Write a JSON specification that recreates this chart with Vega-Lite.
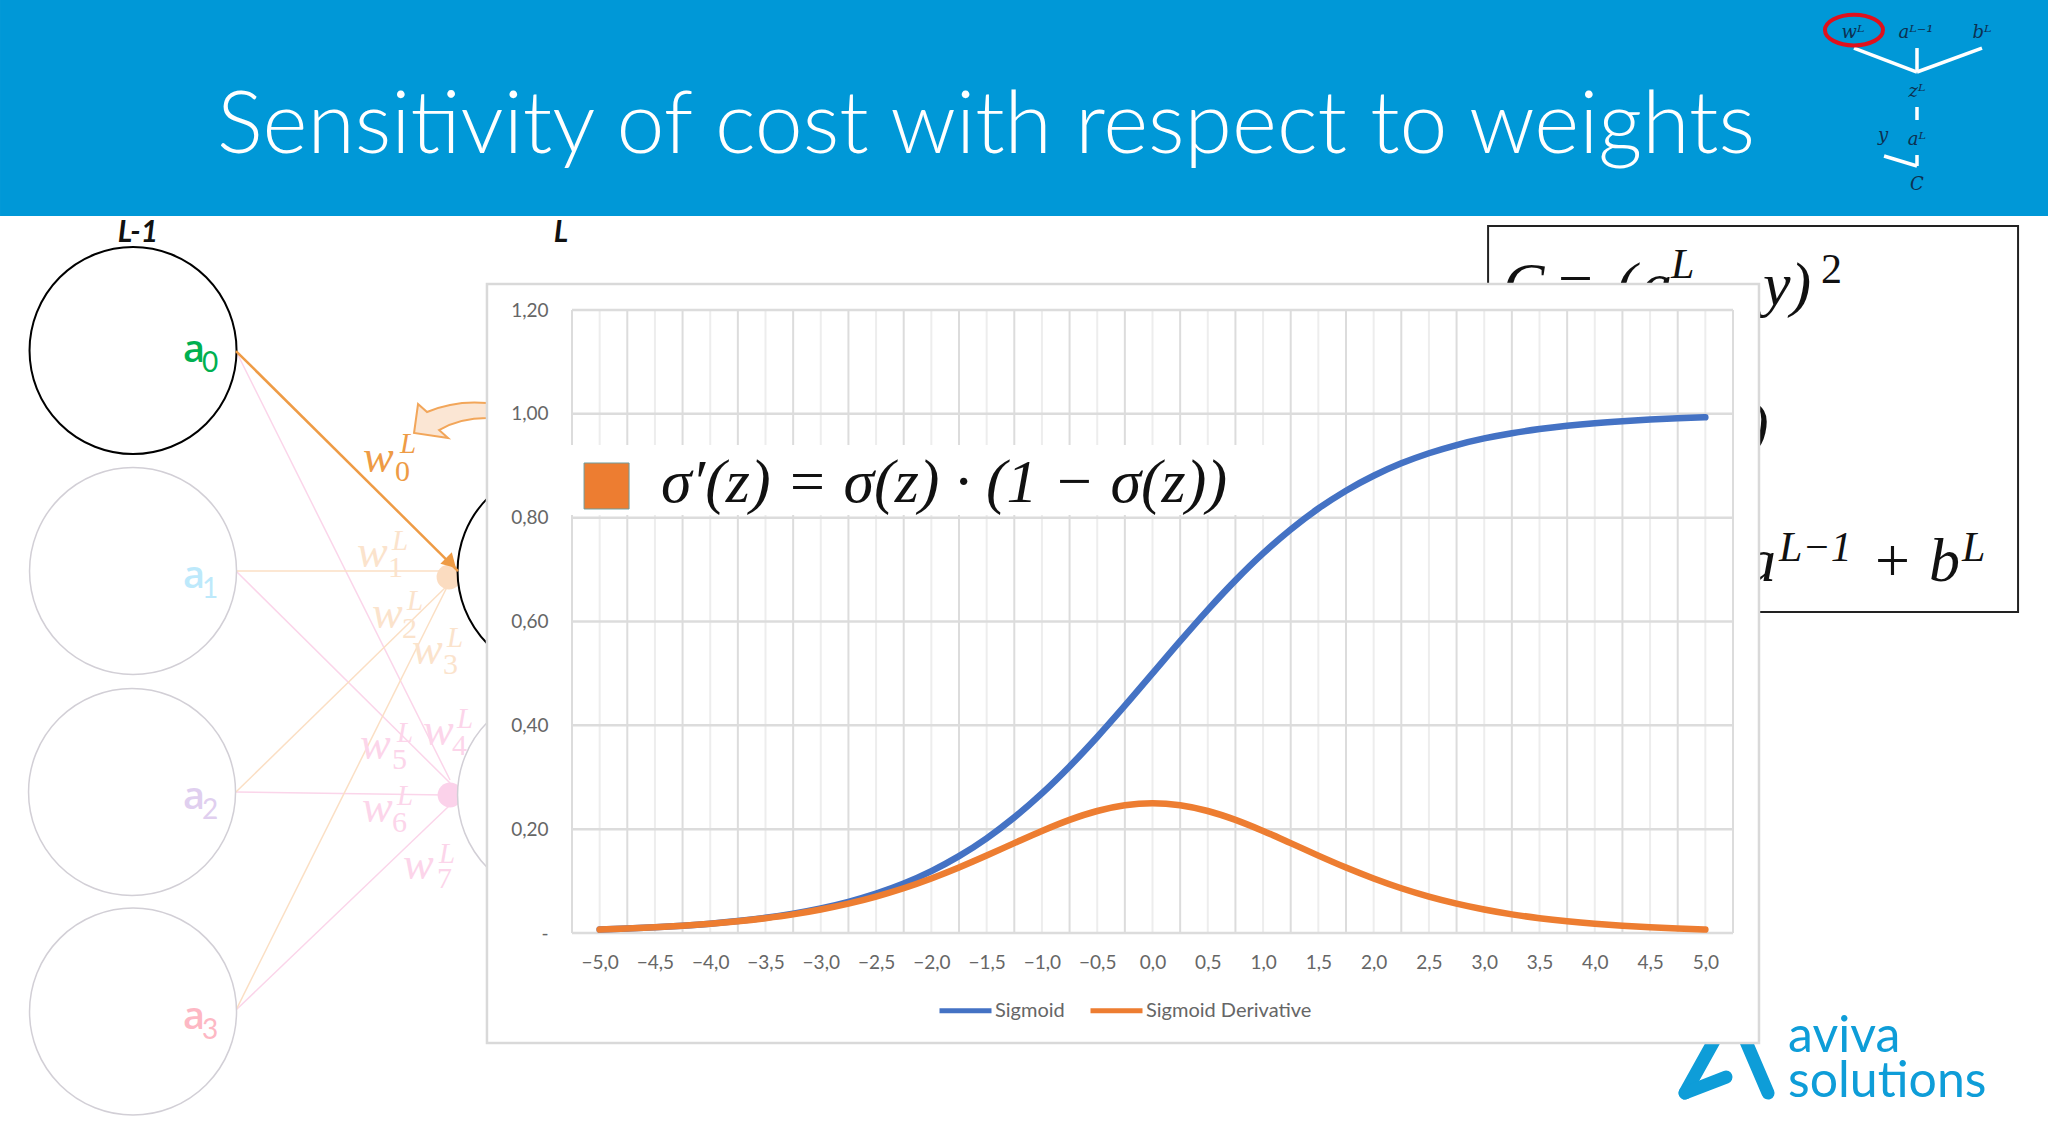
{"$schema":"https://vega.github.io/schema/vega-lite/v6.json","width":1161,"height":623,"autosize":{"type":"none"},"padding":{"left":572,"top":310,"right":315,"bottom":208},"background":"#ffffff","config":{"view":{"stroke":null}},
"encoding":{"x":{"field":"x","type":"quantitative","scale":{"domain":[-5.25,5.25],"nice":false,"zero":false},"axis":{"title":null,"values":[-5,-4.5,-4,-3.5,-3,-2.5,-2,-1.5,-1,-0.5,0,0.5,1,1.5,2,2.5,3,3.5,4,4.5,5],"labelExpr":"replace(datum.label,'.',',')","domain":false,"ticks":false,"grid":false,"labelFont":"Lato","labelFontSize":19,"labelColor":"#666666","labelPadding":20,"labelOverlap":false,"labelFlush":false,"zindex":2}},"y":{"field":"y","type":"quantitative","scale":{"domain":[0,1.2],"nice":false,"zero":false},"axis":{"title":null,"values":[0,0.2,0.4,0.6,0.8,1,1.2],"labelExpr":"datum.value==0?'-':replace(format(datum.value,'.2f'),'.',',')","domain":false,"ticks":false,"grid":false,"labelFont":"Lato","labelFontSize":19,"labelColor":"#666666","labelPadding":24,"labelOverlap":false,"labelFlush":false,"zindex":2}}},
"layer":[
{"data":{"values":[{"x":-10.423,"x2":8.099,"y":1.797,"y2":1.381}]},"mark":{"type":"rect","fill":"#0098d7"},"encoding":{"x2":{"field":"x2"},"y2":{"field":"y2"}}},
{"data":{"values":[{"x":-1.506,"y":1.502,"t":"Sensitivity of cost with respect to weights"}]},"mark":{"type":"text","font":"Lato","fontWeight":300,"fontSize":86,"fill":"#ffffff","align":"center","baseline":"alphabetic"},"encoding":{"text":{"field":"t"}}},
{"data":{"values":[{"x":6.344,"y":1.7046,"x2":6.914,"y2":1.6584},{"x":6.914,"y":1.7046,"x2":6.914,"y2":1.6584},{"x":7.502,"y":1.7046,"x2":6.914,"y2":1.6584},{"x":6.914,"y":1.591,"x2":6.914,"y2":1.566},{"x":6.616,"y":1.4966,"x2":6.914,"y2":1.4774},{"x":6.914,"y":1.4985,"x2":6.914,"y2":1.4774}]},"mark":{"type":"rule","stroke":"#ffffff","strokeWidth":3.5},"encoding":{"x2":{"field":"x2"},"y2":{"field":"y2"}}},
{"data":{"values":[{"x":6.344,"y":1.7393}]},"mark":{"type":"point","shape":"M-1 0 A1 .53 0 1 1 1 0 A1 .53 0 1 1 -1 0 Z","size":3364,"filled":false,"stroke":"#e0101c","strokeWidth":4,"opacity":1}},
{"data":{"values":[{"x":6.335,"y":1.7239,"t":"wᴸ"},{"x":6.905,"y":1.7239,"t":"aᴸ⁻¹"},{"x":7.502,"y":1.7239,"t":"bᴸ"},{"x":6.914,"y":1.6103,"t":"zᴸ"},{"x":6.607,"y":1.5255,"t":"y"},{"x":6.914,"y":1.5178,"t":"aᴸ"},{"x":6.914,"y":1.4311,"t":"C"}]},"mark":{"type":"text","font":"DejaVu Serif","fontStyle":"italic","fontSize":18,"fill":"#0d3050","align":"center","baseline":"alphabetic"},"encoding":{"text":{"field":"t"}}},
{"data":{"values":[{"x":3.035,"x2":7.828,"y":1.3618,"y2":0.6183}]},"mark":{"type":"rect","fill":"#ffffff","stroke":"#222222","strokeWidth":2},"encoding":{"x2":{"field":"x2"},"y2":{"field":"y2"}}},
{"data":{"values":[{"x":3.17,"y":1.2096,"t":"C"},{"x":4.192,"y":1.2096,"t":"("},{"x":4.418,"y":1.2096,"t":"a"},{"x":5.521,"y":1.2096,"t":"y)"},{"x":5.386,"y":0.9399,"t":")"},{"x":5.359,"y":0.678,"t":"a"},{"x":7.023,"y":0.678,"t":"b"}]},"mark":{"type":"text","font":"Liberation Serif","fontStyle":"italic","fontSize":62,"fill":"#111111","align":"left","baseline":"alphabetic"},"encoding":{"text":{"field":"t"}}},
{"data":{"values":[{"x":3.668,"y":1.2096,"t":"="},{"x":6.535,"y":0.678,"t":"+"}]},"mark":{"type":"text","font":"Liberation Serif","fontSize":62,"fill":"#111111","align":"left","baseline":"alphabetic"},"encoding":{"text":{"field":"t"}}},
{"data":{"values":[{"x":4.69,"y":1.2616,"t":"L"},{"x":5.666,"y":0.7165,"t":"L−1"},{"x":7.321,"y":0.7165,"t":"L"}]},"mark":{"type":"text","font":"Liberation Serif","fontStyle":"italic","fontSize":42,"fill":"#111111","align":"left","baseline":"alphabetic"},"encoding":{"text":{"field":"t"}}},
{"data":{"values":[{"x":6.046,"y":1.252,"t":"2"}]},"mark":{"type":"text","font":"Liberation Serif","fontSize":42,"fill":"#111111","align":"left","baseline":"alphabetic"},"encoding":{"text":{"field":"t"}}},
{"data":{"values":[{"x":5.133,"y":-0.1869,"x2":4.816,"y2":-0.3082},{"x":4.816,"y":-0.3082,"x2":5.187,"y2":-0.2775},{"x":5.323,"y":-0.1869,"x2":5.567,"y2":-0.3082}]},"mark":{"type":"rule","stroke":"#0e9dd8","strokeWidth":13,"strokeCap":"round"},"encoding":{"x2":{"field":"x2"},"y2":{"field":"y2"}}},
{"data":{"values":[{"x":5.748,"y":-0.2293,"t":"aviva"},{"x":5.748,"y":-0.3159,"t":"solutions"}]},"mark":{"type":"text","font":"Lato","fontSize":50,"fill":"#0e9dd8","align":"left","baseline":"alphabetic"},"encoding":{"text":{"field":"t"}}},
{"data":{"values":[{"x":-8.289,"y":1.121,"x2":-6.353,"y2":0.2947},{"x":-8.289,"y":0.6972,"x2":-6.353,"y2":0.2889},{"x":-8.289,"y":0.2716,"x2":-6.398,"y2":0.2658},{"x":-8.289,"y":-0.1484,"x2":-6.353,"y2":0.2465}]},"mark":{"type":"rule","stroke":"#fbd5ea","strokeWidth":1.5},"encoding":{"x2":{"field":"x2"},"y2":{"field":"y2"}}},
{"data":{"values":[{"x":-8.289,"y":0.6972,"x2":-6.398,"y2":0.6972},{"x":-8.289,"y":0.2716,"x2":-6.353,"y2":0.6741},{"x":-8.289,"y":-0.1484,"x2":-6.38,"y2":0.6664}]},"mark":{"type":"rule","stroke":"#fbdfc4","strokeWidth":1.5},"encoding":{"x2":{"field":"x2"},"y2":{"field":"y2"}}},
{"data":{"values":[{"x":-6.362,"y":0.6857}]},"mark":{"type":"point","shape":"circle","filled":true,"size":620,"fill":"#fbdcc0","opacity":1}},
{"data":{"values":[{"x":-6.353,"y":0.2658}]},"mark":{"type":"point","shape":"circle","filled":true,"size":620,"fill":"#fbd2ea","opacity":1}},
{"data":{"values":[{"x":-5.349,"y":0.2658},{"x":-9.22,"y":0.6972},{"x":-9.229,"y":0.2716},{"x":-9.22,"y":-0.1513}]},"mark":{"type":"point","shape":"circle","size":42849,"filled":false,"fill":"#ffffff","fillOpacity":1,"stroke":"#d2cfd6","strokeWidth":1.5,"opacity":1}},
{"data":{"values":[{"x":-5.349,"y":0.6972},{"x":-9.22,"y":1.122}]},"mark":{"type":"point","shape":"circle","size":42849,"filled":false,"fill":"#ffffff","fillOpacity":1,"stroke":"#000000","strokeWidth":2,"opacity":1}},
{"data":{"values":[{"x":-8.289,"y":1.121,"x2":-6.281,"y2":0.6972}]},"mark":{"type":"rule","stroke":"#ee9b45","strokeWidth":2.5},"encoding":{"x2":{"field":"x2"},"y2":{"field":"y2"}}},
{"data":{"values":[{"x":-6.344,"y":0.7127}]},"mark":{"type":"point","shape":"triangle-up","angle":135,"size":260,"filled":true,"fill":"#ee9b45","opacity":1}},
{"data":{"values":[{"x":-9.175,"y":1.331,"t":"L-1"},{"x":-5.349,"y":1.331,"t":"L"}]},"mark":{"type":"text","font":"Lato","fontWeight":"bold","fontStyle":"italic","fontSize":30,"fill":"#111111","align":"center","baseline":"alphabetic"},"encoding":{"text":{"field":"t"}}},
{"data":{"values":[{"x":-8.768,"y":1.0998,"t":"a","g":"a0"},{"x":-8.768,"y":0.6645,"t":"a","g":"a1"},{"x":-8.768,"y":0.2388,"t":"a","g":"a2"},{"x":-8.768,"y":-0.185,"t":"a","g":"a3"}]},"mark":{"type":"text","font":"Open Sans","fontWeight":600,"fontSize":38,"align":"left","baseline":"alphabetic"},"encoding":{"text":{"field":"t"},"fill":{"field":"g","legend":null,"scale":{"domain":["a0","a1","a2","a3","orange","pale","pink"],"range":["#00b050","#bde9fb","#e0cfef","#fdb8c4","#ee9b45","#fbe3cc","#fcd5ea"]}}}},
{"data":{"values":[{"x":-8.596,"y":1.0806,"t":"0","g":"a0"},{"x":-8.596,"y":0.6452,"t":"1","g":"a1"},{"x":-8.596,"y":0.2195,"t":"2","g":"a2"},{"x":-8.596,"y":-0.2043,"t":"3","g":"a3"}]},"mark":{"type":"text","font":"Lato","fontSize":28,"align":"left","baseline":"alphabetic"},"encoding":{"text":{"field":"t"},"fill":{"field":"g","legend":null}}},
{"data":{"values":[{"x":-7.14,"y":0.8879,"t":"w","g":"orange"},{"x":-7.194,"y":0.7049,"t":"w","g":"pale"},{"x":-7.059,"y":0.5874,"t":"w","g":"pale"},{"x":-6.697,"y":0.5181,"t":"w","g":"pale"},{"x":-6.597,"y":0.3621,"t":"w","g":"pink"},{"x":-7.167,"y":0.3351,"t":"w","g":"pink"},{"x":-7.149,"y":0.2138,"t":"w","g":"pink"},{"x":-6.778,"y":0.104,"t":"w","g":"pink"}]},"mark":{"type":"text","font":"Liberation Serif","fontStyle":"italic","fontSize":46,"align":"left","baseline":"alphabetic"},"encoding":{"text":{"field":"t"},"fill":{"field":"g","legend":null}}},
{"data":{"values":[{"x":-6.805,"y":0.9245,"t":"L","g":"orange"},{"x":-6.878,"y":0.7377,"t":"L","g":"pale"},{"x":-6.742,"y":0.6221,"t":"L","g":"pale"},{"x":-6.38,"y":0.5508,"t":"L","g":"pale"},{"x":-6.29,"y":0.3948,"t":"L","g":"pink"},{"x":-6.833,"y":0.3679,"t":"L","g":"pink"},{"x":-6.833,"y":0.2465,"t":"L","g":"pink"},{"x":-6.453,"y":0.1348,"t":"L","g":"pink"}]},"mark":{"type":"text","font":"Liberation Serif","fontStyle":"italic","fontSize":29,"align":"left","baseline":"alphabetic"},"encoding":{"text":{"field":"t"},"fill":{"field":"g","legend":null}}},
{"data":{"values":[{"x":-6.851,"y":0.8706,"t":"0","g":"orange"},{"x":-6.914,"y":0.6857,"t":"1","g":"pale"},{"x":-6.787,"y":0.5682,"t":"2","g":"pale"},{"x":-6.417,"y":0.4988,"t":"3","g":"pale"},{"x":-6.335,"y":0.3428,"t":"4","g":"pink"},{"x":-6.878,"y":0.3159,"t":"5","g":"pink"},{"x":-6.878,"y":0.1945,"t":"6","g":"pink"},{"x":-6.471,"y":0.0866,"t":"7","g":"pink"}]},"mark":{"type":"text","font":"Liberation Serif","fontSize":30,"align":"left","baseline":"alphabetic"},"encoding":{"text":{"field":"t"},"fill":{"field":"g","legend":null}}},
{"data":{"values":[{"x":-6.353,"y":0.9881}]},"mark":{"type":"point","shape":"M37 -17 Q5 -20 -23 -8 L-32 -16 L-36 13 L-2 18 L-11 10 Q10 -2 37 -2 Z","size":4,"filled":true,"fill":"#fbe6d4","stroke":"#f2a65a","strokeWidth":2,"opacity":1}},
{"data":{"values":[{"x":-6.019,"x2":5.485,"y":1.2501,"y2":-0.2119}]},"mark":{"type":"rect","fill":"#ffffff","stroke":"#d9d9d9","strokeWidth":2.5},"encoding":{"x2":{"field":"x2"},"y2":{"field":"y2"}}},
{"data":{"values":[{"x":-5},{"x":-4.5},{"x":-4},{"x":-3.5},{"x":-3},{"x":-2.5},{"x":-2},{"x":-1.5},{"x":-1},{"x":-0.5},{"x":0},{"x":0.5},{"x":1},{"x":1.5},{"x":2},{"x":2.5},{"x":3},{"x":3.5},{"x":4},{"x":4.5},{"x":5}]},"mark":{"type":"rule","stroke":"#ededed","strokeWidth":2},"encoding":{"y":null}},
{"data":{"values":[{"x":-5.25},{"x":-4.75},{"x":-4.25},{"x":-3.75},{"x":-3.25},{"x":-2.75},{"x":-2.25},{"x":-1.75},{"x":-1.25},{"x":-0.75},{"x":-0.25},{"x":0.25},{"x":0.75},{"x":1.25},{"x":1.75},{"x":2.25},{"x":2.75},{"x":3.25},{"x":3.75},{"x":4.25},{"x":4.75},{"x":5.25}]},"mark":{"type":"rule","stroke":"#dcdcdc","strokeWidth":2},"encoding":{"y":null}},
{"data":{"values":[{"y":0},{"y":0.2},{"y":0.4},{"y":0.6},{"y":0.8},{"y":1},{"y":1.2}]},"mark":{"type":"rule","stroke":"#dcdcdc","strokeWidth":2.5},"encoding":{"x":null}},
{"data":{"values":[{"x":-5,"y":0.0067,"s":"Sigmoid"},{"x":-4.75,"y":0.0086,"s":"Sigmoid"},{"x":-4.5,"y":0.011,"s":"Sigmoid"},{"x":-4.25,"y":0.0141,"s":"Sigmoid"},{"x":-4,"y":0.018,"s":"Sigmoid"},{"x":-3.75,"y":0.023,"s":"Sigmoid"},{"x":-3.5,"y":0.0293,"s":"Sigmoid"},{"x":-3.25,"y":0.0373,"s":"Sigmoid"},{"x":-3,"y":0.0474,"s":"Sigmoid"},{"x":-2.75,"y":0.0601,"s":"Sigmoid"},{"x":-2.5,"y":0.0759,"s":"Sigmoid"},{"x":-2.25,"y":0.0953,"s":"Sigmoid"},{"x":-2,"y":0.1192,"s":"Sigmoid"},{"x":-1.75,"y":0.148,"s":"Sigmoid"},{"x":-1.5,"y":0.1824,"s":"Sigmoid"},{"x":-1.25,"y":0.2227,"s":"Sigmoid"},{"x":-1,"y":0.2689,"s":"Sigmoid"},{"x":-0.75,"y":0.3208,"s":"Sigmoid"},{"x":-0.5,"y":0.3775,"s":"Sigmoid"},{"x":-0.25,"y":0.4378,"s":"Sigmoid"},{"x":0,"y":0.5,"s":"Sigmoid"},{"x":0.25,"y":0.5622,"s":"Sigmoid"},{"x":0.5,"y":0.6225,"s":"Sigmoid"},{"x":0.75,"y":0.6792,"s":"Sigmoid"},{"x":1,"y":0.7311,"s":"Sigmoid"},{"x":1.25,"y":0.7773,"s":"Sigmoid"},{"x":1.5,"y":0.8176,"s":"Sigmoid"},{"x":1.75,"y":0.852,"s":"Sigmoid"},{"x":2,"y":0.8808,"s":"Sigmoid"},{"x":2.25,"y":0.9047,"s":"Sigmoid"},{"x":2.5,"y":0.9241,"s":"Sigmoid"},{"x":2.75,"y":0.9399,"s":"Sigmoid"},{"x":3,"y":0.9526,"s":"Sigmoid"},{"x":3.25,"y":0.9627,"s":"Sigmoid"},{"x":3.5,"y":0.9707,"s":"Sigmoid"},{"x":3.75,"y":0.977,"s":"Sigmoid"},{"x":4,"y":0.982,"s":"Sigmoid"},{"x":4.25,"y":0.9859,"s":"Sigmoid"},{"x":4.5,"y":0.989,"s":"Sigmoid"},{"x":4.75,"y":0.9914,"s":"Sigmoid"},{"x":5,"y":0.9933,"s":"Sigmoid"},
{"x":-5,"y":0.0066,"s":"Sigmoid Derivative"},{"x":-4.75,"y":0.0085,"s":"Sigmoid Derivative"},{"x":-4.5,"y":0.0109,"s":"Sigmoid Derivative"},{"x":-4.25,"y":0.0139,"s":"Sigmoid Derivative"},{"x":-4,"y":0.0177,"s":"Sigmoid Derivative"},{"x":-3.75,"y":0.0225,"s":"Sigmoid Derivative"},{"x":-3.5,"y":0.0285,"s":"Sigmoid Derivative"},{"x":-3.25,"y":0.0359,"s":"Sigmoid Derivative"},{"x":-3,"y":0.0452,"s":"Sigmoid Derivative"},{"x":-2.75,"y":0.0565,"s":"Sigmoid Derivative"},{"x":-2.5,"y":0.0701,"s":"Sigmoid Derivative"},{"x":-2.25,"y":0.0862,"s":"Sigmoid Derivative"},{"x":-2,"y":0.105,"s":"Sigmoid Derivative"},{"x":-1.75,"y":0.1261,"s":"Sigmoid Derivative"},{"x":-1.5,"y":0.1491,"s":"Sigmoid Derivative"},{"x":-1.25,"y":0.1731,"s":"Sigmoid Derivative"},{"x":-1,"y":0.1966,"s":"Sigmoid Derivative"},{"x":-0.75,"y":0.2179,"s":"Sigmoid Derivative"},{"x":-0.5,"y":0.235,"s":"Sigmoid Derivative"},{"x":-0.25,"y":0.2461,"s":"Sigmoid Derivative"},{"x":0,"y":0.25,"s":"Sigmoid Derivative"},{"x":0.25,"y":0.2461,"s":"Sigmoid Derivative"},{"x":0.5,"y":0.235,"s":"Sigmoid Derivative"},{"x":0.75,"y":0.2179,"s":"Sigmoid Derivative"},{"x":1,"y":0.1966,"s":"Sigmoid Derivative"},{"x":1.25,"y":0.1731,"s":"Sigmoid Derivative"},{"x":1.5,"y":0.1491,"s":"Sigmoid Derivative"},{"x":1.75,"y":0.1261,"s":"Sigmoid Derivative"},{"x":2,"y":0.105,"s":"Sigmoid Derivative"},{"x":2.25,"y":0.0862,"s":"Sigmoid Derivative"},{"x":2.5,"y":0.0701,"s":"Sigmoid Derivative"},{"x":2.75,"y":0.0565,"s":"Sigmoid Derivative"},{"x":3,"y":0.0452,"s":"Sigmoid Derivative"},{"x":3.25,"y":0.0359,"s":"Sigmoid Derivative"},{"x":3.5,"y":0.0285,"s":"Sigmoid Derivative"},{"x":3.75,"y":0.0225,"s":"Sigmoid Derivative"},{"x":4,"y":0.0177,"s":"Sigmoid Derivative"},{"x":4.25,"y":0.0139,"s":"Sigmoid Derivative"},{"x":4.5,"y":0.0109,"s":"Sigmoid Derivative"},{"x":4.75,"y":0.0085,"s":"Sigmoid Derivative"},{"x":5,"y":0.0066,"s":"Sigmoid Derivative"}]},"mark":{"type":"line","interpolate":"monotone","strokeWidth":6.5,"strokeCap":"round"},
"encoding":{"stroke":{"field":"s","type":"nominal","scale":{"domain":["Sigmoid","Sigmoid Derivative"],"range":["#4472c4","#ed7d31"]},"legend":{"title":null,"orient":"none","legendX":365,"legendY":672,"direction":"horizontal","columns":2,"symbolType":"stroke","symbolSize":2704,"symbolStrokeWidth":5,"labelFont":"Lato","labelFontSize":20,"labelColor":"#666666","labelOffset":1,"labelLimit":400,"columnPadding":15}}}},
{"data":{"values":[{"x":-5.313,"x2":1.036,"y":0.9399,"y2":0.8051}]},"mark":{"type":"rect","fill":"#ffffff"},"encoding":{"x2":{"field":"x2"},"y2":{"field":"y2"}}},
{"data":{"values":[{"x":-5.141,"x2":-4.734,"y":0.9053,"y2":0.8167}]},"mark":{"type":"rect","fill":"#ed7d31","stroke":"#6f9c9c","strokeWidth":1},"encoding":{"x2":{"field":"x2"},"y2":{"field":"y2"}}},
{"data":{"values":[{"x":-4.445,"y":0.8301,"t":"σ′(z) = σ(z) · (1 − σ(z))"}]},"mark":{"type":"text","font":"Liberation Serif","fontStyle":"italic","fontSize":62,"fill":"#111111","align":"left","baseline":"alphabetic"},"encoding":{"text":{"field":"t"}}}
]}
